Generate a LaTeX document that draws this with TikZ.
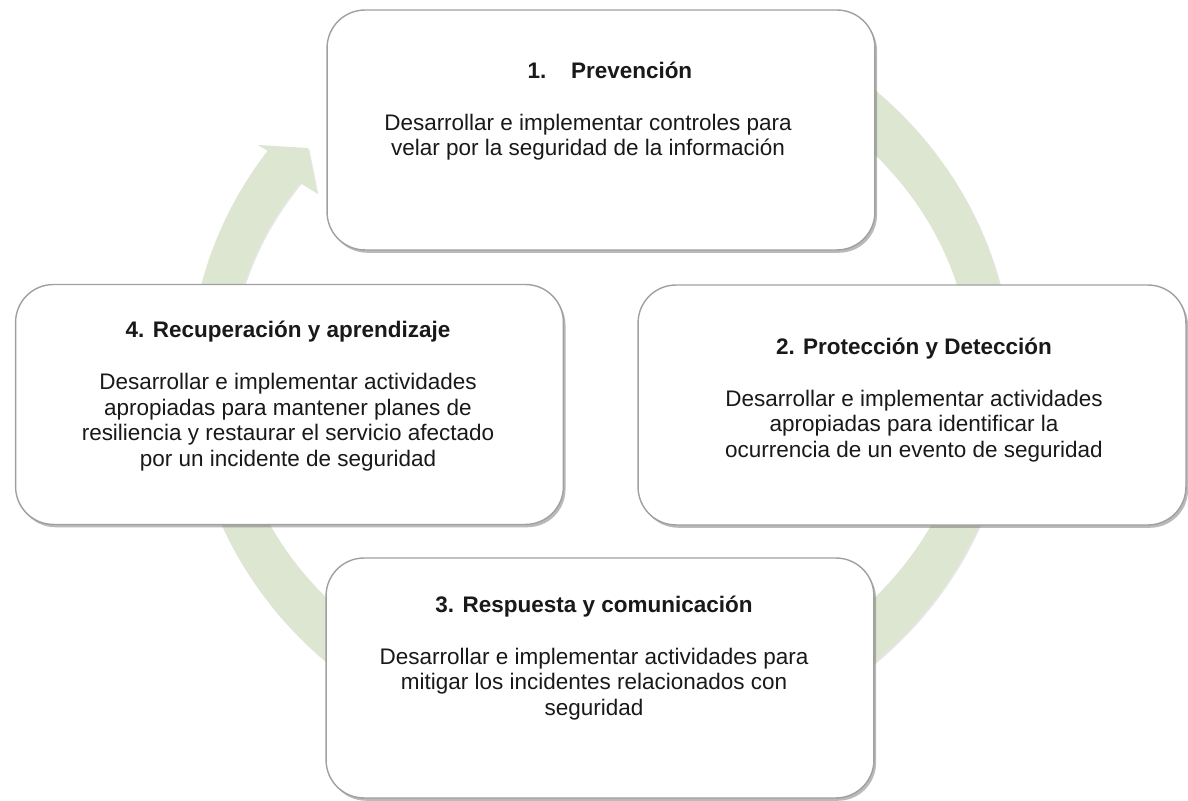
\documentclass[tikz,border=0pt]{standalone}
\usepackage{fontspec}
\setmainfont{Liberation Sans}
\usetikzlibrary{shadows}
\definecolor{cyclegreen}{RGB}{220,230,208}
\definecolor{boxgray}{RGB}{160,160,160}

\begin{document}
\begin{tikzpicture}[x=0.02cm, y=0.02cm,
    box/.style={draw=boxgray, line width=0.8pt, fill=white, rounded corners=0.76cm,
      minimum width=10.96cm, minimum height=4.8cm,
      drop shadow={shadow xshift=1.2pt, shadow yshift=-1.6pt, opacity=0.45, fill=black!60}},
    txt/.style={align=center, font=\fontsize{12.8}{14.5}\selectfont, text=black!90}]
  \useasboundingbox (0,0) rectangle (1188,801);
  % cycle arrow behind the boxes
  \fill[cyclegreen, drop shadow={shadow xshift=0.8pt, shadow yshift=-0.8pt, opacity=0.2}]
    (741.1,785.8) arc[start angle=70, end angle=-216, x radius=411, y radius=384]
    -- (258,656) -- (308,653) -- (317,608) -- (300.35,618.38)
    arc[start angle=-216, end angle=70, x radius=371, y radius=329] -- cycle;
  \draw (601,671) node (prev) [box] {};
  \draw (912,396) node (prot) [box] {};
  \draw (600,123) node (resp) [box] {};
  \draw (289.5,396.5) node (recu) [box] {};
  \draw (588,690) node (prevtxt) [txt] {\textbf{\hspace*{25pt}1.\hspace{14pt}Prevención}\\[15pt]
    Desarrollar e implementar controles para\\ velar por la seguridad de la información};
  \draw (914,401) node (prottxt) [txt] {\textbf{2. Protección y Detección}\\[15pt]
    Desarrollar e implementar actividades\\ apropiadas para identificar la\\ ocurrencia de un evento de seguridad};
  \draw (594,143) node (resptxt) [txt] {\textbf{3. Respuesta y comunicación}\\[15pt]
    Desarrollar e implementar actividades para\\ mitigar los incidentes relacionados con\\ seguridad};
  \draw (288,405) node (recutxt) [txt] {\textbf{4. Recuperación y aprendizaje}\\[15pt]
    Desarrollar e implementar actividades\\ apropiadas para mantener planes de\\ resiliencia y restaurar el servicio afectado\\ por un incidente de seguridad};
\end{tikzpicture}
\end{document}
